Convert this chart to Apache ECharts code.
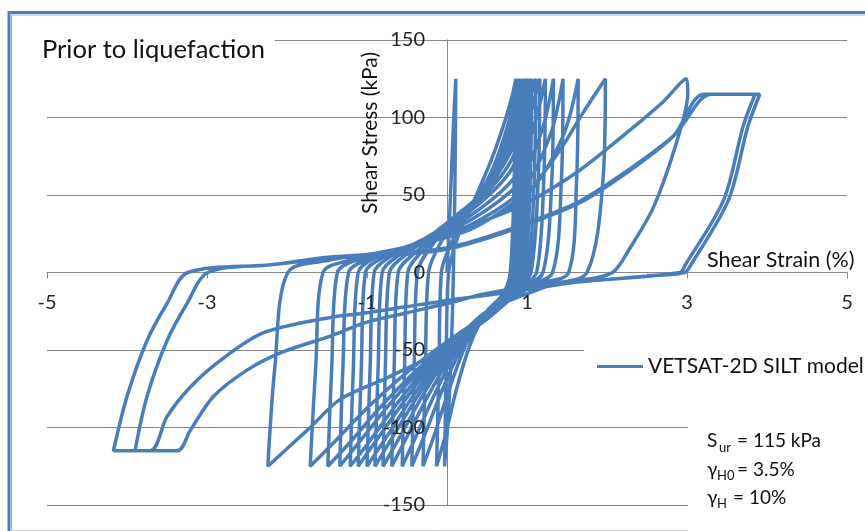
<!DOCTYPE html>
<html>
<head>
<meta charset="utf-8">
<script src="https://cdn.jsdelivr.net/npm/echarts@6/dist/echarts.min.js"></script>
<style>
  html, body { margin: 0; padding: 0; background: #fff; }
  #chart { width: 865px; height: 531px; }
</style>
</head>
<body>
<div id="chart"></div>
<script>
// tick values
var xTicks = [-5, -3, -1, 1, 3, 5];
var yTicks = [-150, -100, -50, 0, 50, 100, 150];

// shear strain (%), shear stress (kPa), one array per cycle
var firstLoad = [[0, 0], [0.04, 45], [0.08, 95], [0.11, 125]];
var cycle01 = [[0.10, 60], [0.08, 0], [0.06, -40], [0.02, -90], [-0.03, -125],
  [-0.01, -60], [0.02, 0], [0.15, 25], [0.35, 48], [0.55, 72], [0.72, 97], [0.82, 115], [0.86, 125]];
var cycle02 = [[0.84, 60], [0.79, 0], [0.70, -14], [0.50, -25], [0.30, -45], [0.12, -75], [-0.02, -105], [-0.13, -125],
  [-0.10, -60], [-0.07, 0], [0.10, 24], [0.35, 45], [0.58, 68], [0.76, 95], [0.85, 115], [0.89, 125]];
var cycle03 = [[0.87, 60], [0.82, 0], [0.72, -13], [0.50, -25], [0.25, -45], [0.03, -75], [-0.16, -105], [-0.30, -125],
  [-0.27, -60], [-0.23, 0], [0, 26], [0.30, 44], [0.60, 65], [0.78, 92], [0.88, 114], [0.92, 125]];
var cycle04 = [[0.90, 60], [0.85, 0], [0.74, -13], [0.50, -26], [0.20, -47], [-0.06, -76], [-0.28, -105], [-0.44, -125],
  [-0.41, -60], [-0.37, 0], [-0.15, 20], [0.20, 38], [0.55, 60], [0.80, 90], [0.90, 113], [0.95, 125]];
var cycle05 = [[0.93, 60], [0.88, 0], [0.76, -13], [0.50, -26], [0.15, -48], [-0.14, -77], [-0.39, -106], [-0.56, -125],
  [-0.53, -60], [-0.49, 0], [-0.25, 17], [0.10, 34], [0.50, 55], [0.80, 86], [0.92, 112], [0.98, 125]];
var cycle06 = [[0.96, 60], [0.91, 0], [0.78, -12], [0.50, -27], [0.10, -50], [-0.22, -78], [-0.50, -106], [-0.69, -125],
  [-0.66, -60], [-0.61, 0], [-0.35, 15], [0, 32], [0.45, 52], [0.80, 82], [0.95, 110], [1.02, 125]];
var cycle07 = [[1.00, 60], [0.94, 0], [0.80, -12], [0.50, -27], [0.05, -51], [-0.30, -79], [-0.60, -107], [-0.80, -125],
  [-0.77, -60], [-0.72, 0], [-0.45, 14], [-0.10, 28], [0.40, 48], [0.80, 78], [0.97, 108], [1.06, 125]];
var cycle08 = [[1.04, 60], [0.97, 0], [0.82, -12], [0.50, -28], [0, -52], [-0.37, -80], [-0.69, -107], [-0.90, -125],
  [-0.86, -60], [-0.81, 0], [-0.55, 13], [-0.15, 26], [0.35, 44], [0.80, 72], [1.00, 105], [1.11, 125]];
var cycle09 = [[1.09, 60], [1.01, 0], [0.85, -11], [0.50, -28], [-0.05, -53], [-0.44, -81], [-0.78, -108], [-1.00, -125],
  [-0.96, -60], [-0.91, 0], [-0.65, 12], [-0.20, 24], [0.30, 40], [0.80, 66], [1.03, 100], [1.16, 125]];
var cycle10 = [[1.14, 60], [1.05, 0], [0.88, -11], [0.50, -29], [-0.10, -54], [-0.52, -82], [-0.88, -108], [-1.11, -125],
  [-1.07, -60], [-1.02, 0], [-0.75, 11], [-0.25, 22], [0.30, 37], [0.85, 62], [1.10, 97], [1.23, 125]];
var cycle11 = [[1.21, 60], [1.12, 0], [0.92, -10], [0.50, -29], [-0.15, -55], [-0.60, -83], [-0.97, -109], [-1.21, -125],
  [-1.17, -60], [-1.11, 0], [-0.84, 11], [-0.30, 20], [0.30, 34], [0.90, 58], [1.20, 94], [1.33, 125]];
var cycle12 = [[1.31, 60], [1.20, 0], [0.95, -10], [0.50, -30], [-0.20, -56], [-0.70, -84], [-1.09, -109], [-1.34, -125],
  [-1.30, -60], [-1.23, 0], [-0.90, 10], [-0.35, 19], [0.30, 31], [0.95, 54], [1.30, 90], [1.45, 125]];
var cycle13 = [[1.43, 60], [1.32, 0], [1.00, -9], [0.50, -29], [-0.25, -57], [-0.80, -85], [-1.22, -110], [-1.49, -125],
  [-1.44, -60], [-1.37, 0], [-1.00, 10], [-0.40, 18], [0.30, 29], [1.00, 50], [1.45, 88], [1.64, 125]];
var cycle14 = [[1.62, 60], [1.52, 0], [1.10, -8], [0.50, -27], [-0.30, -56], [-0.95, -85], [-1.42, -110], [-1.71, -125],
  [-1.64, -60], [-1.55, 0], [-1.10, 9], [-0.45, 17], [0.30, 28], [1.00, 52], [1.40, 78], [1.70, 103], [1.98, 125]];
var cycle15 = [[1.95, 60], [1.75, 0], [1.30, -8], [0.50, -25], [0, -48], [-0.71, -67], [-1.34, -82], [-1.71, -100], [-2.24, -125],
  [-2.15, -60], [-1.99, 0], [-1.46, 8], [-0.84, 13], [-0.21, 20], [0.50, 34], [1.00, 45], [1.66, 66], [2.29, 92], [2.70, 110], [2.99, 125]];
var bigLoop1 = [[3.01, 116], [2.87, 84], [2.58, 42], [2.29, 16], [2.07, 0], [1.66, -5], [1.00, -9], [0.45, -14], [0, -20],
  [-0.50, -26], [-1.00, -32], [-1.46, -41], [-2.09, -52], [-2.50, -63], [-2.92, -80], [-3.21, -102], [-3.37, -115], [-3.90, -115],
  [-3.75, -80], [-3.50, -44], [-3.25, -20], [-2.99, 0], [-2.20, 5], [-1.46, 9], [-0.50, 12], [0, 15], [0.50, 22], [1.00, 31],
  [1.66, 45], [2.29, 66], [2.83, 88], [3.21, 115], [3.85, 115]];
var bigLoop2 = [[3.70, 94], [3.46, 47], [2.98, 5], [2.91, 0], [1.66, -6], [1.00, -11], [0.45, -15], [0, -18], [-0.50, -22],
  [-1.00, -26], [-1.46, -29], [-2.30, -39], [-2.84, -57], [-3.21, -74], [-3.50, -93], [-3.71, -115], [-4.17, -115],
  [-4.00, -80], [-3.75, -44], [-3.50, -20], [-3.24, 0], [-2.20, 5], [-1.46, 10], [-0.50, 13], [0, 16], [0.50, 23], [1.00, 32],
  [1.66, 46], [2.29, 67], [2.85, 89], [3.30, 115], [3.91, 115], [3.76, 94], [3.52, 47], [3.05, 5], [2.97, 0], [2.50, -2]];

var path = [].concat(firstLoad, cycle01, cycle02, cycle03, cycle04, cycle05, cycle06, cycle07, cycle08,
  cycle09, cycle10, cycle11, cycle12, cycle13, cycle14, cycle15, bigLoop1, bigLoop2);

var font = 'Lato, "Open Sans", sans-serif';
var gridGray = '#868686';
var lineBlue = '#4a7ebb';

// plot box in pixels; the axes are shifted onto the zero lines with offset
var plotLeft = 47, plotTop = 40, plotW = 800, plotH = 465;

var xRange = { type: 'value', min: xTicks[0], max: xTicks[xTicks.length - 1], interval: 2, position: 'bottom', offset: -plotH / 2 };
var yRange = { type: 'value', min: yTicks[0], max: yTicks[yTicks.length - 1], interval: 50, position: 'left', offset: -plotW / 2 };
var xLabel = { margin: 20, fontSize: 20, color: '#262626', fontFamily: font };
var yLabel = { margin: 22, fontSize: 20, color: '#262626', fontFamily: font };

var chart = echarts.init(document.getElementById('chart'));
var option = {
    animation: false,
    title: {
        text: 'Prior to liquefaction',
        left: 29,
        top: 28,
        padding: [9, 10, 9, 13],
        backgroundColor: '#fff',
        textStyle: { fontSize: 25.5, fontWeight: 'normal', color: '#111', fontFamily: font }
    },
    legend: {
        data: ['VETSAT-2D SILT model'],
        left: 584,
        top: 346,
        padding: [10, 20, 10, 13],
        backgroundColor: '#fff',
        icon: 'rect',
        itemWidth: 46,
        itemHeight: 3,
        textStyle: { fontSize: 21, color: '#111', fontFamily: font }
    },
    grid: {
        left: plotLeft, top: plotTop, width: plotW, height: plotH,
        containLabel: false, outerBoundsMode: 'none'
    },
    xAxis: [
        Object.assign({}, xRange, {
            axisLine: { onZero: false, lineStyle: { color: gridGray } },
            axisTick: { show: true, length: 6, lineStyle: { color: gridGray } },
            axisLabel: { show: false },
            splitLine: { show: false }
        }),
        // labels only, drawn above the curves
        Object.assign({}, xRange, {
            z: 10,
            axisLine: { show: false },
            axisTick: { show: false },
            axisLabel: xLabel,
            splitLine: { show: false }
        })
    ],
    yAxis: [
        Object.assign({}, yRange, {
            axisLine: { onZero: false, lineStyle: { color: gridGray } },
            axisTick: { show: true, length: 5, lineStyle: { color: gridGray } },
            axisLabel: { show: false },
            splitLine: { show: true, lineStyle: { color: gridGray, width: 1 } }
        }),
        Object.assign({}, yRange, {
            z: 10,
            axisLine: { show: false },
            axisTick: { show: false },
            axisLabel: yLabel,
            splitLine: { show: false }
        })
    ],
    graphic: [
        // chart frame
        { type: 'polyline', z: 90, shape: { points: [[9, 540], [9, 12.5], [870, 12.5]] },
          style: { stroke: lineBlue, lineWidth: 3, fill: null } },
        { type: 'polyline', z: 90, shape: { points: [[11.5, 530], [11.5, 15], [870, 15]] },
          style: { stroke: '#b0b0b0', lineWidth: 1, fill: null } },
        { type: 'line', z: 90, shape: { x1: 11, y1: 530.5, x2: 870, y2: 530.5 },
          style: { stroke: '#c8c8c8', lineWidth: 1 } },
        // axis titles
        { type: 'text', z: 100, x: 370, y: 133, rotation: Math.PI / 2,
          style: { text: 'Shear Stress (kPa)', fontSize: 21, fill: '#111', fontFamily: font, align: 'center', verticalAlign: 'middle' } },
        { type: 'text', z: 100, x: 707, y: 260,
          style: { text: 'Shear Strain (%)', fontSize: 21.5, fill: '#111', fontFamily: font, verticalAlign: 'middle' } },
        // parameter box
        { type: 'rect', z: 95, shape: { x: 688, y: 415, width: 190, height: 125 }, style: { fill: '#fff' } },
        { type: 'text', z: 100, x: 707, y: 441, style: { text: 'S', fontSize: 19, fill: '#111', fontFamily: font, verticalAlign: 'middle' } },
        { type: 'text', z: 100, x: 719, y: 448, style: { text: 'ur', fontSize: 13, fill: '#111', fontFamily: font, verticalAlign: 'middle' } },
        { type: 'text', z: 100, x: 737, y: 441, style: { text: '= 115 kPa', fontSize: 19, fill: '#111', fontFamily: font, verticalAlign: 'middle' } },
        { type: 'text', z: 100, x: 707, y: 470, style: { text: 'γ', fontSize: 19, fill: '#111', fontFamily: font, verticalAlign: 'middle' } },
        { type: 'text', z: 100, x: 717, y: 476, style: { text: 'H0', fontSize: 13, fill: '#111', fontFamily: font, verticalAlign: 'middle' } },
        { type: 'text', z: 100, x: 737, y: 470, style: { text: '= 3.5%', fontSize: 19, fill: '#111', fontFamily: font, verticalAlign: 'middle' } },
        { type: 'text', z: 100, x: 707, y: 498, style: { text: 'γ', fontSize: 19, fill: '#111', fontFamily: font, verticalAlign: 'middle' } },
        { type: 'text', z: 100, x: 717, y: 504, style: { text: 'H', fontSize: 13, fill: '#111', fontFamily: font, verticalAlign: 'middle' } },
        { type: 'text', z: 100, x: 733, y: 498, style: { text: '= 10%', fontSize: 19, fill: '#111', fontFamily: font, verticalAlign: 'middle' } }
    ],
    series: [
        {
            name: 'VETSAT-2D SILT model',
            type: 'line',
            xAxisIndex: 0,
            yAxisIndex: 0,
            data: path,
            symbol: 'none',
            smooth: 0.3,
            color: lineBlue,
            lineStyle: { width: 3.5, color: lineBlue }
        }
    ]
};

chart.setOption(option);
window.addEventListener("resize", function () {
    chart.resize();
});
</script>
</body>
</html>
